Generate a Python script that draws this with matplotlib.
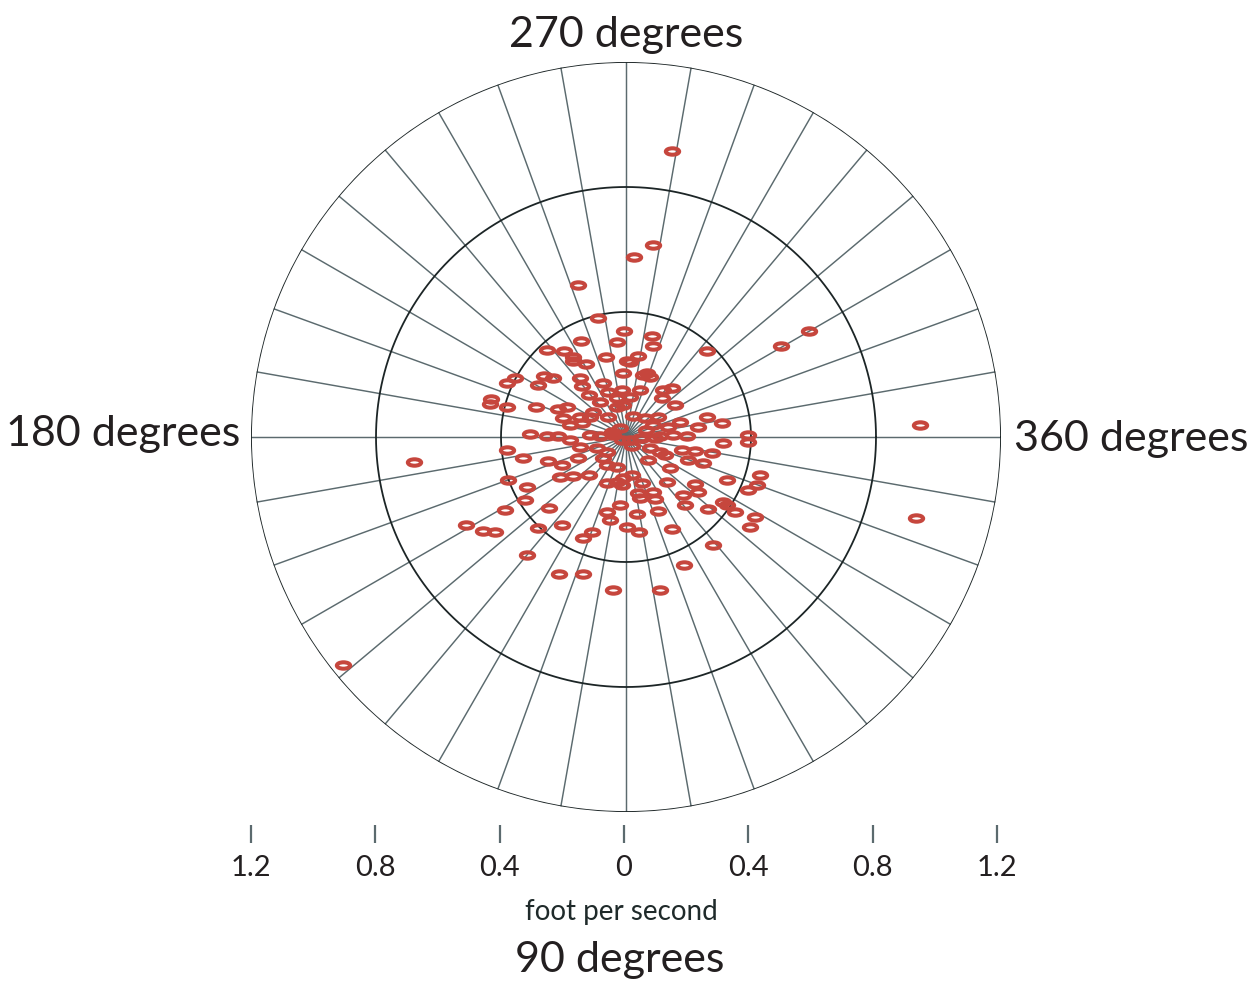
import numpy as np
import matplotlib
matplotlib.use("Agg")
import matplotlib.pyplot as plt
from matplotlib.path import Path

plt.rcParams['font.family'] = ['Lato', 'DejaVu Sans']

# Velocity components (foot per second): east (+x, 360 deg) and south (+y, 90 deg)
velocity_east_fps = np.array([
    0.147, 0.086, 0.026, -0.154, -0.090, 0.586, 0.496, 0.259, 0.941, -0.678,
    0.928, -0.906, -0.512, -0.458, -0.419, -0.317, -0.214, -0.138, -0.042, 0.109,
    0.186, 0.278,
    -0.006, -0.144, -0.029, -0.253, -0.198, -0.170, -0.170, -0.128, -0.064, 0.003,
    -0.010, -0.355, -0.381, -0.262, -0.234, -0.282, -0.147, -0.141, -0.074, -0.058,
    -0.013, -0.118, -0.083, -0.029, -0.010, -0.432, -0.435, -0.381, -0.288, -0.218,
    -0.189, -0.202, -0.147, -0.106, -0.115, -0.058, -0.029, -0.179, -0.141, -0.307,
    -0.253, -0.218, -0.115, -0.083, -0.042,
    0.083, 0.086, 0.038, 0.013, 0.067, 0.054, 0.077, 0.045, 0.013, 0.118, 0.147,
    0.115, 0.157, 0.022, 0.061, 0.102, 0.086, 0.173, 0.134, 0.230, 0.259, 0.307,
    0.390, 0.195, 0.150, 0.109,
    -0.179, -0.013, 0.013, -0.381, -0.147, -0.093, -0.061, -0.330, -0.250, -0.205,
    -0.154, -0.074, -0.061, -0.029, -0.211, -0.170, -0.118, -0.378, -0.317, -0.061,
    -0.029, -0.013, -0.323, -0.387, -0.246, -0.061, -0.019, -0.051, -0.282, -0.205,
    -0.109, -0.138, 0.003,
    0.051, 0.077, 0.310, 0.390, 0.109, 0.125, 0.179, 0.221, 0.275, 0.070, 0.198,
    0.246, 0.141, 0.323, 0.429, 0.419, 0.390, 0.019, -0.010, 0.051, 0.131, 0.221,
    0.230, 0.182, 0.038, 0.086, 0.045, 0.093, 0.189, 0.262, 0.310, 0.323, 0.349,
    0.413, 0.397, 0.035, 0.102, 0.042, 0.147,
    0.045, 0.093, -0.019, -0.045, 0.019, 0.064,
])
velocity_south_fps = np.array([
    -0.915, -0.614, -0.576, -0.486, -0.381, -0.339, -0.291, -0.275, -0.038, 0.080,
    0.259, 0.730, 0.282, 0.301, 0.304, 0.378, 0.438, 0.438, 0.490, 0.490,
    0.410, 0.346,
    -0.339, -0.307, -0.304, -0.278, -0.275, -0.256, -0.243, -0.234, -0.256, -0.243,
    -0.205, -0.189, -0.173, -0.195, -0.189, -0.166, -0.189, -0.163, -0.173, -0.144,
    -0.150, -0.134, -0.112, -0.125, -0.102, -0.122, -0.106, -0.096, -0.096, -0.090,
    -0.096, -0.061, -0.064, -0.080, -0.064, -0.064, -0.096, -0.038, -0.045, -0.010,
    -0.003, -0.003, -0.006, -0.003, -0.006,
    -0.323, -0.291, -0.259, -0.240, -0.205, -0.198, -0.192, -0.150, -0.128, -0.150,
    -0.157, -0.125, -0.102, -0.067, -0.061, -0.064, -0.038, -0.048, -0.032, -0.032,
    -0.064, -0.045, -0.006, -0.003, -0.006, -0.003,
    0.010, 0.010, 0.010, 0.042, 0.032, 0.035, 0.048, 0.067, 0.077, 0.090,
    0.067, 0.067, 0.090, 0.096, 0.128, 0.125, 0.122, 0.138, 0.160, 0.147,
    0.144, 0.154, 0.202, 0.234, 0.227, 0.240, 0.218, 0.266, 0.291, 0.282,
    0.304, 0.323, 0.288,
    0.003, 0.035, 0.019, 0.016, 0.048, 0.058, 0.042, 0.045, 0.051, 0.074, 0.074,
    0.083, 0.099, 0.138, 0.122, 0.154, 0.170, 0.122, 0.131, 0.147, 0.144, 0.150,
    0.176, 0.186, 0.179, 0.176, 0.195, 0.198, 0.218, 0.230, 0.208, 0.218, 0.240,
    0.256, 0.288, 0.246, 0.237, 0.304, 0.294,
    0.003, 0.003, -0.029, -0.016, 0.029, -0.022,
])

speed_fps = np.hypot(velocity_east_fps, velocity_south_fps)
direction_deg = np.degrees(np.arctan2(velocity_south_fps, velocity_east_fps)) % 360

ring_values = [0.4, 0.8, 1.2]
spoke_degrees = np.arange(0, 360, 10)
scale_ticks = [-1.2, -0.8, -0.4, 0.0, 0.4, 0.8, 1.2]
scale_labels = ["1.2", "0.8", "0.4", "0", "0.4", "0.8", "1.2"]

W, H = 1259, 983
fig = plt.figure(figsize=(W / 100, H / 100), dpi=100)

cx, cy, R = 626, 437, 375
ax = fig.add_axes([(cx - R) / W, 1 - (cy + R) / H, 2 * R / W, 2 * R / H],
                  projection='polar')
ax.set_theta_zero_location('E')
ax.set_theta_direction(-1)
ax.set_ylim(0, 1.2)
ax.grid(False)
ax.set_xticks([])
ax.set_yticks([])
ax.spines['polar'].set_visible(False)

spoke_color = '#5b6a6e'
ring_color = '#1c2526'
for d in spoke_degrees:
    t = np.radians(d)
    ax.plot([t, t], [0, 1.2], color=spoke_color, lw=1.05, zorder=1)
th = np.linspace(0, 2 * np.pi, 721)
for r in ring_values:
    ax.plot(th, np.full_like(th, r), color=ring_color, lw=1.3, zorder=2)

circ = Path.unit_circle()
ell = Path(circ.vertices * np.array([1.0, 0.48]), circ.codes)
ax.plot(np.radians(direction_deg), speed_fps, linestyle='none', marker=ell,
        markersize=9.6, markerfacecolor='none', markeredgecolor='#c6463d',
        markeredgewidth=2.9, zorder=3, clip_on=False)

txt = '#231f20'
fig.text(cx / W, 1 - 47 / H, '270 degrees', ha='center', va='baseline',
         fontsize=31, color=txt)
fig.text(240 / W, 1 - 446 / H, '180 degrees', ha='right', va='baseline',
         fontsize=31, color=txt)
fig.text(1014 / W, 1 - 451 / H, '360 degrees', ha='left', va='baseline',
         fontsize=31, color=txt)
fig.text(620 / W, 1 - 972 / H, '90 degrees', ha='center', va='baseline',
         fontsize=31, color=txt)
fig.text(621 / W, 1 - 920 / H, 'foot per second', ha='center', va='baseline',
         fontsize=20, color='#1f2a2a')

sax = fig.add_axes([251 / W, 1 - 843 / H, 746 / W, 0.0001])
sax.set_xlim(-1.2, 1.2)
sax.set_xticks(scale_ticks)
sax.set_xticklabels(scale_labels)
sax.set_yticks([])
for s in sax.spines.values():
    s.set_visible(False)
sax.patch.set_visible(False)
sax.tick_params(axis='x', direction='in', length=13, width=1.6, color='#5b6a6e',
                pad=9, labelsize=21, labelcolor=txt)

fig.savefig('out.png', dpi=100)
